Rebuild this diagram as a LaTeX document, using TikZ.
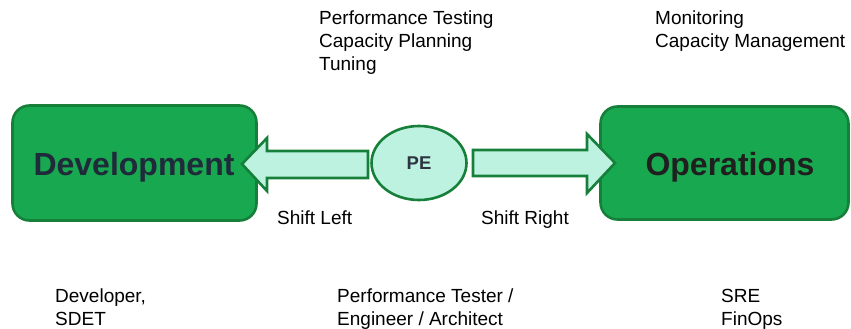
\documentclass[tikz,border=0pt]{standalone}
\usepackage{fontspec}
\setmainfont{Liberation Sans}
\usetikzlibrary{shapes.geometric}
\definecolor{boxfill}{RGB}{24,168,80}
\definecolor{boxline}{RGB}{22,128,58}
\definecolor{arrowfill}{RGB}{190,242,224}
\definecolor{titleink}{RGB}{31,42,58}
\definecolor{peink}{RGB}{43,52,64}
\tikzset{
  stagebox/.style={draw=boxline, fill=boxfill, line width=2.6pt, rounded corners=17pt},
  stagetitle/.style={font=\fontsize{32}{36}\selectfont\bfseries, inner sep=0pt, anchor=base},
  shiftarrow/.style={draw=boxline, fill=arrowfill, line width=2.6pt, line join=miter},
  pebubble/.style={ellipse, draw=boxline, fill=arrowfill, line width=2.6pt,
    minimum width=95pt, minimum height=74pt, inner sep=0pt,
    font=\fontsize{18.5}{20}\selectfont\bfseries, text=peink},
  note/.style={font=\fontsize{19}{23}\selectfont, align=left, inner sep=0pt, anchor=north west},
  tag/.style={font=\fontsize{19}{23}\selectfont, inner sep=0pt, anchor=base west}
}
\begin{document}
\begin{tikzpicture}[x=1pt,y=-1pt]
  \useasboundingbox (0,0) rectangle (851,329);

  % stage boxes
  \draw[stagebox] (12.5,105.5) rectangle (256.5,220.5);
  \draw[stagebox] (600.5,106.5) rectangle (848.5,219.5);
  \node[stagetitle, text=titleink] (dev) at (134,175) {Development};
  \node[stagetitle, text=black!88] (ops) at (730,175) {Operations};

  % shift arrows
  \draw[shiftarrow] (368,151) -- (267,151) -- (267,138) -- (242,164)
    -- (267,191) -- (267,178) -- (368,178) -- cycle;
  \draw[shiftarrow] (473,150) -- (587,150) -- (587,134) -- (615,163)
    -- (587,193) -- (587,176) -- (473,176) -- cycle;

  % centre bubble
  \node[pebubble] (pe) at (419,163) {PE};

  % arrow labels
  \node[tag] (sl) at (277,224) {Shift Left};
  \node[tag] (sr) at (481,224) {Shift Right};

  % activity lists
  \node[note] (act) at (319,11) {Performance Testing\\Capacity Planning\\Tuning};
  \node[note] (opsact) at (655,11) {Monitoring\\Capacity Management};

  % roles
  \node[note] (devrole) at (55,289) {Developer,\\SDET};
  \node[note] (perole) at (337,289) {Performance Tester /\\Engineer / Architect};
  \node[note] (opsrole) at (721,289) {SRE\\FinOps};
\end{tikzpicture}
\end{document}
